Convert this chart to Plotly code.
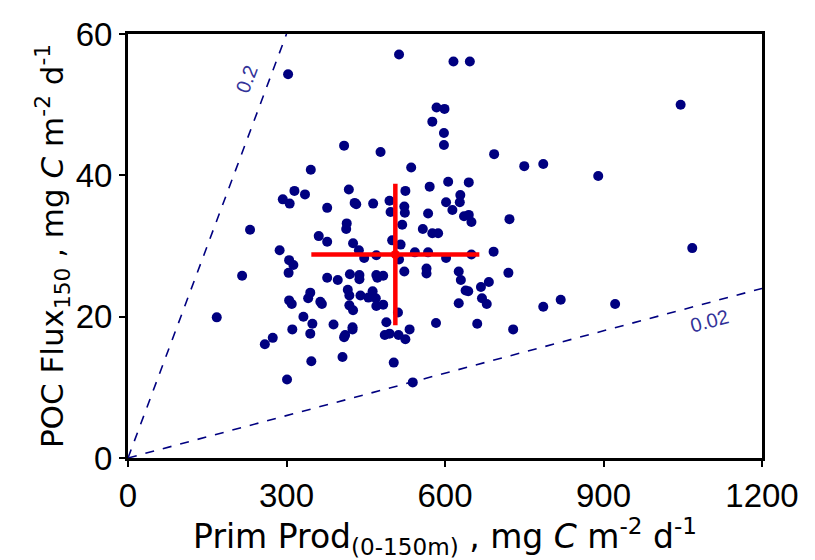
import plotly.graph_objects as go

prim_prod = [513, 616, 647, 303, 1046, 584, 599, 576, 598, 598, 409, 478, 693, 346, 536, 750, 786, 890,
             606, 645, 571, 418, 525, 315, 293, 306, 335, 429, 432, 464, 495, 629, 628, 602, 377, 523,
             524, 497, 568, 614, 636, 645, 650, 722, 231, 414, 413, 519, 558, 576, 587, 361, 377, 426,
             500, 516, 287, 437, 447, 470, 513, 543, 568, 602, 650, 692, 1068, 305, 313, 304, 216, 377,
             397, 420, 438, 438, 470, 483, 472, 523, 565, 565, 626, 630, 720, 683, 668, 644, 639, 345,
             341, 305, 310, 364, 367, 416, 419, 440, 463, 455, 469, 470, 483, 419, 426, 626, 670, 679,
             786, 819, 922, 168, 332, 349, 311, 345, 389, 425, 425, 411, 409, 511, 489, 486, 495, 512,
             525, 533, 583, 661, 729, 274, 259, 347, 406, 503, 301, 539]
poc_flux = [57.1, 56.1, 56.1, 54.3, 50.0, 49.6, 49.4, 47.6, 46.0, 44.3, 44.2, 43.3, 43.0, 40.8, 41.1, 41.3,
            41.6, 39.9, 39.1, 39.0, 38.4, 38.0, 37.8, 37.8, 36.6, 36.0, 37.3, 36.1, 35.9, 36.0, 36.4, 37.2,
            36.2, 36.2, 35.4, 35.6, 34.7, 34.8, 34.6, 35.1, 34.2, 34.4, 33.4, 33.8, 32.3, 33.2, 32.4, 33.0,
            32.4, 31.8, 31.8, 31.4, 30.6, 30.4, 30.8, 30.2, 29.4, 29.4, 28.3, 28.7, 28.1, 29.1, 29.1, 28.3,
            28.8, 29.2, 29.7, 28.0, 27.3, 26.2, 25.8, 25.5, 25.2, 26.0, 25.9, 25.3, 25.9, 25.8, 25.5, 26.4,
            26.8, 26.1, 26.4, 25.2, 26.2, 24.9, 24.2, 23.6, 23.7, 23.4, 22.6, 22.3, 21.8, 22.1, 21.8, 23.8,
            23.0, 23.0, 23.6, 22.7, 22.6, 21.5, 21.7, 21.6, 20.9, 21.9, 22.6, 21.8, 21.4, 22.4, 21.8, 19.9,
            20.0, 19.0, 18.2, 17.6, 18.9, 18.5, 18.2, 17.4, 17.1, 20.6, 19.2, 17.4, 17.6, 17.4, 16.8, 18.2,
            19.1, 19.0, 18.2, 17.0, 16.1, 13.7, 14.3, 13.5, 11.1, 10.7]

mean_pp = [506]
mean_flux = [28.8]
err_pp = [159]
err_flux = [10.0]

ratios = [0.2, 0.02]
ratio_labels = ["0.2", "0.02"]
ratio_xmax = [300, 1200]

x_ticks = [0, 300, 600, 900, 1200]
y_ticks = [0, 20, 40, 60]

navy = "#000080"
fig = go.Figure()

for r, xm in zip(ratios, ratio_xmax):
    fig.add_trace(go.Scatter(x=[0, xm], y=[0, r * xm], mode="lines",
                             line=dict(color=navy, width=1.6, dash="dash"),
                             hoverinfo="skip", showlegend=False))

fig.add_trace(go.Scatter(x=prim_prod, y=poc_flux, mode="markers",
                         marker=dict(color=navy, size=10, line=dict(width=0)),
                         showlegend=False))

fig.add_trace(go.Scatter(x=mean_pp, y=mean_flux, mode="markers",
                         marker=dict(color="red", size=9),
                         error_x=dict(type="data", array=err_pp, color="red", thickness=4.5, width=0),
                         error_y=dict(type="data", array=err_flux, color="red", thickness=4.5, width=0),
                         showlegend=False))

fig.add_annotation(x=224, y=53.7, text=ratio_labels[0], showarrow=False, textangle=-69.5,
                   font=dict(family="Liberation Sans, Arial", size=20, color="#333399"))
fig.add_annotation(x=1100, y=19.4, text=ratio_labels[1], showarrow=False, textangle=-15,
                   font=dict(family="Liberation Sans, Arial", size=20, color="#333399"))

tick_font = dict(family="Liberation Sans, Arial", size=33, color="black")
fig.update_layout(
    width=815, height=560,
    margin=dict(l=128, r=53, t=34, b=102),
    paper_bgcolor="white", plot_bgcolor="white",
    xaxis=dict(range=[0, 1200], tickvals=x_ticks, showgrid=False, zeroline=False,
               showline=True, linewidth=3, linecolor="black", mirror=True,
               ticks="outside", ticklen=6, tickwidth=2, tickcolor="black",
               tickfont=tick_font,
               title=dict(text="Prim Prod<sub>(0-150m)</sub> , mg <i>C</i> m<sup>-2</sup> d<sup>-1</sup>",
                          font=dict(family="DejaVu Sans, sans-serif", size=33, color="black"),
                          standoff=0)),
    yaxis=dict(range=[0, 60], tickvals=y_ticks, showgrid=False, zeroline=False,
               showline=True, linewidth=3, linecolor="black", mirror=True,
               ticks="outside", ticklen=6, tickwidth=2, tickcolor="black",
               tickfont=tick_font,
               title=dict(text="POC Flux<sub>150</sub> , mg <i>C</i> m<sup>-2</sup> d<sup>-1</sup>",
                          font=dict(family="DejaVu Sans, sans-serif", size=31, color="black"),
                          standoff=3)),
)

fig.write_html("out.html")
